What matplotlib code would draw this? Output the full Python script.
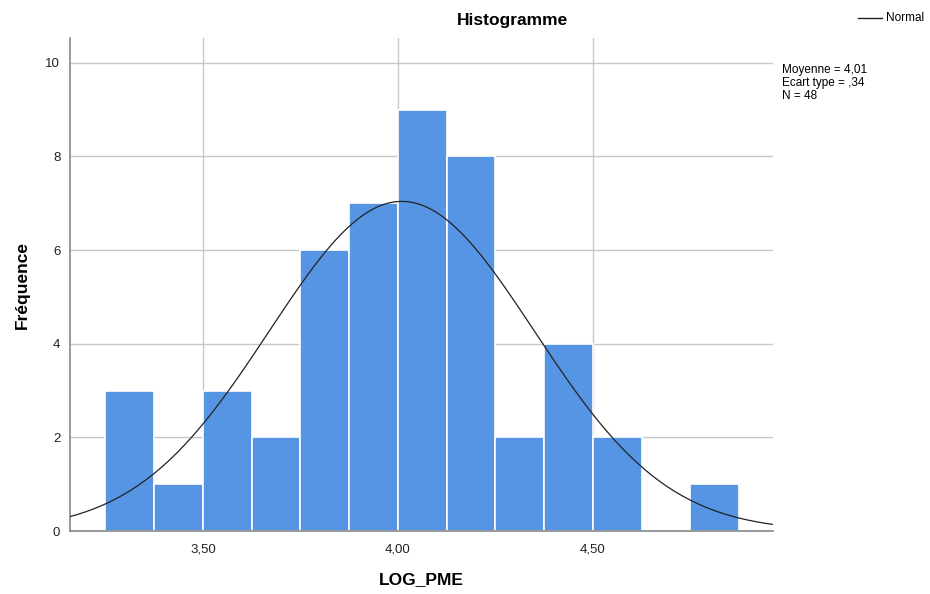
import matplotlib
matplotlib.use('Agg')
import matplotlib.pyplot as plt
import numpy as np

plt.rcParams['font.family'] = ['Liberation Sans', 'DejaVu Sans']

# histogram of LOG_PME (bin width 0.125)
bin_edges = [3.25, 3.375, 3.5, 3.625, 3.75, 3.875, 4.0, 4.125, 4.25, 4.375, 4.5, 4.625, 4.75, 4.875]
counts = [3, 1, 3, 2, 6, 7, 9, 8, 2, 4, 2, 0, 1]
moyenne = 4.01
ecart_type = 0.34
n_obs = 48
xticks = [3.5, 4.0, 4.5]
xtick_labels = ['3,50', '4,00', '4,50']
yticks = [0, 2, 4, 6, 8, 10]

bar_color = '#5595e4'
grid_color = '#c8c8c8'

fig = plt.figure(figsize=(9.3, 5.94), dpi=100)
ax = fig.add_axes([70/930, 63/594, (773-70)/930, (531-38)/594])

left = np.array(bin_edges[:-1])
width = np.diff(bin_edges)
ax.bar(left, counts, width=width, align='edge', color=bar_color,
       edgecolor='white', linewidth=1.2, zorder=2)

# normal curve scaled to the counts
xlim = (3.159, 4.962)
xs = np.linspace(xlim[0], xlim[1], 400)
scale = n_obs * 0.125
ys = scale / (ecart_type * np.sqrt(2 * np.pi)) * np.exp(-0.5 * ((xs - moyenne) / ecart_type) ** 2)
line, = ax.plot(xs, ys, color='#222222', linewidth=0.9, zorder=3)

ax.set_xlim(*xlim)
ax.set_ylim(0, 10.53)
ax.set_xticks(xticks)
ax.set_xticklabels(xtick_labels)
ax.set_yticks(yticks)
ax.grid(True, color=grid_color, linewidth=1, zorder=0)
ax.set_axisbelow(True)
ax.tick_params(length=0, labelsize=9.5, colors='#222222', pad=7)
ax.tick_params(axis='x', pad=9)
for s in ['top', 'right']:
    ax.spines[s].set_visible(False)
for s in ['left', 'bottom']:
    ax.spines[s].set_color('#888888')
    ax.spines[s].set_linewidth(1.2)

fig.text(512/930, 1 - 20/594, 'Histogramme', ha='center', va='center',
         fontsize=12.5, fontweight='bold')
fig.text(421/930, 1 - 580/594, 'LOG_PME', ha='center', va='center',
         fontsize=12.5, fontweight='bold')
fig.text(22/930, 1 - 285/594, 'Fréquence', ha='center', va='center',
         rotation=90, fontsize=12.5, fontweight='bold')

# legend entry
fig.add_artist(plt.Line2D([858/930, 882/930], [1 - 18/594, 1 - 18/594],
                          color='#222222', linewidth=1, transform=fig.transFigure))
fig.text(886/930, 1 - 18/594, 'Normal', ha='left', va='center', fontsize=8.5)

stats = 'Moyenne = 4,01\nEcart type = ,34\nN = 48'
fig.text(782/930, 1 - 64/594, stats, ha='left', va='top', fontsize=8.5,
         linespacing=1.1)

fig.savefig('out.png', dpi=100)
